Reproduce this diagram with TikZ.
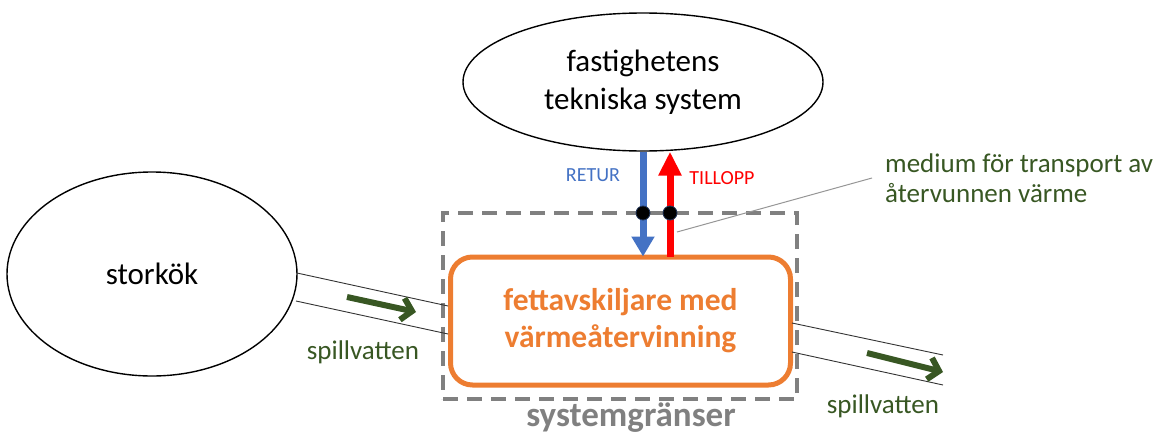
\documentclass[tikz,border=0pt]{standalone}
\usepackage{fontspec}
\setmainfont{Carlito}
\usetikzlibrary{shapes.geometric,arrows.meta}
\definecolor{oblue}{RGB}{68,114,196}
\definecolor{ored}{RGB}{255,0,0}
\definecolor{oorange}{RGB}{237,125,49}
\definecolor{ogreen}{RGB}{56,87,35}
\definecolor{ogray}{RGB}{128,128,128}
\definecolor{lgray}{RGB}{150,150,150}
\begin{document}
\begin{tikzpicture}[x=1pt,y=-1pt,
  oval/.style={ellipse, draw=black, line width=1.4pt, inner sep=0pt},
  bigtext/.style={font=\fontsize{31}{38}\selectfont, align=center},
  greentext/.style={text=ogreen, font=\fontsize{27}{30}\selectfont},
  pipe/.style={draw=black!80, line width=0.9pt},
  flow/.style={draw=ogreen, line width=6pt, -{Straight Barb[length=10pt,width=22pt]}},
  dot/.style={circle, fill=black, draw=oblue!45!black, line width=0.8pt, inner sep=0pt, minimum size=14pt},
  medarrow/.style={line width=7pt},
]
\useasboundingbox (0,0) rectangle (1162,434);
% nodes
\node[oval, minimum width=360pt, minimum height=138pt, bigtext] (tek) at (643,82) {fastighetens\\tekniska system};
\node[oval, minimum width=290pt, minimum height=204pt, bigtext] (kok) at (152,274) {storkök};
\node[draw=ogray, line width=4pt, dash pattern=on 15pt off 9pt, minimum width=354pt, minimum height=186pt] (grans) at (620,306) {};
\node[draw=oorange, line width=5pt, rounded corners=22pt, minimum width=340pt, minimum height=128pt, text=oorange, font=\bfseries\fontsize{31.5}{37}\selectfont, align=center] (fett) at (620.5,321) {fettavskiljare med\\värmeåtervinning};
\node[text=ogray, font=\bfseries\fontsize{35}{40}\selectfont] (sgl) at (631,418) {systemgränser};
% labels
\node[text=oblue, font=\fontsize{20}{24}\selectfont] (ret) at (593,175) {RETUR};
\node[text=ored, font=\fontsize{20}{24}\selectfont] (til) at (722,178) {TILLOPP};
\node[greentext, align=left, anchor=west, inner sep=0pt] (med) at (885,178) {medium för transport av\\återvunnen värme};
\node[greentext] (sp1) at (363,352) {spillvatten};
\node[greentext] (sp2) at (883,406) {spillvatten};
% pipe coordinates
\coordinate (l1a) at (297,273);
\coordinate (l1b) at (448,306);
\coordinate (l2a) at (296,301);
\coordinate (l2b) at (448,334);
\coordinate (r1a) at (792,323);
\coordinate (r1b) at (943,355);
\coordinate (r2a) at (792,352);
\coordinate (r2b) at (943,385);
\coordinate (f1a) at (347,297);
\coordinate (f1b) at (416,312);
\coordinate (f2a) at (867,353);
\coordinate (f2b) at (943,372);
\coordinate (p1) at (643,213);
\coordinate (p2) at (670,213);
\coordinate (an) at (677,232);
% pipes
\draw[pipe] (l1a) -- (l1b);
\draw[pipe] (l2a) -- (l2b);
\draw[pipe] (r1a) -- (r1b);
\draw[pipe] (r2a) -- (r2b);
\draw[flow] (f1a) -- (f1b);
\draw[flow] (f2a) -- (f2b);
% medium arrows
\draw[medarrow, draw=oblue, fill=oblue, -{Triangle[length=20pt,width=22pt]}] (tek.south) -- ([yshift=-2pt]p1 |- fett.north);
\draw[medarrow, draw=ored, fill=ored, -{Triangle[length=24pt,width=22pt]}] ([yshift=-2pt]p2 |- fett.north) -- (p2 |- tek.south);
% annotation line
\draw[lgray, line width=1pt] (an) -- ([xshift=-13pt]med.west);
% dots
\node[dot] (d1) at (p1) {};
\node[dot] (d2) at (p2) {};
\end{tikzpicture}
\end{document}
